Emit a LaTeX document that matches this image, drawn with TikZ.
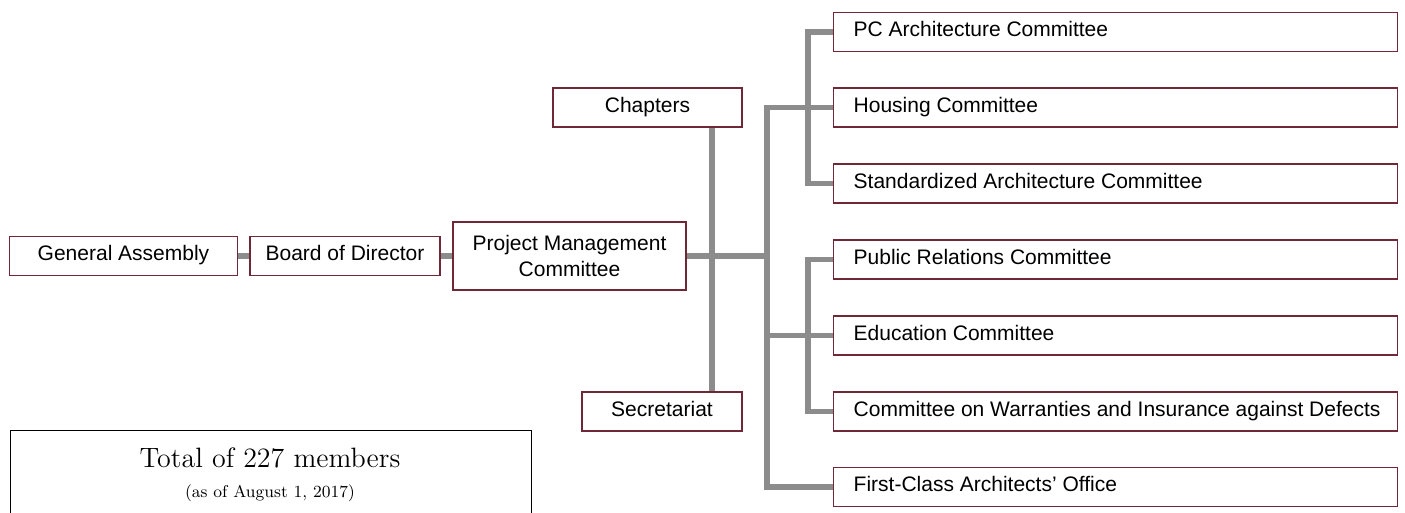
\documentclass[tikz,border=0pt]{standalone}
\usepackage{fontspec}
\setsansfont{Liberation Sans}
\usetikzlibrary{positioning}
\definecolor{boxred}{RGB}{110,40,56}
\definecolor{linkgray}{RGB}{140,140,140}
\newcommand{\cmtext}[1]{\makebox[262pt][l]{#1}}
\tikzset{
  unit/.style={draw=boxred, line width=0.7pt, fill=white, inner sep=0pt,
    font=\sffamily\fontsize{10.5}{12.6}\selectfont, minimum height=19.5pt,
    text height=1.6ex, text depth=0.5ex},
  cmte/.style={unit, anchor=west, minimum width=282pt, inner xsep=10pt},
  link/.style={draw=linkgray, line width=2.6pt},
}
\begin{document}
\begin{tikzpicture}[x=0.5pt,y=-0.5pt]
  \useasboundingbox (0,0) rectangle (1405,513);
  % junctions
  \coordinate (j1) at (712,256);
  \coordinate (j2) at (767,256);
  % left part
  \node[unit, minimum width=114pt] (ga) at (123.5,256) {General Assembly};
  \node[unit, minimum width=95pt] (bod) at (345,256) {Board of Director};
  \node[unit, minimum width=116.5pt, minimum height=34pt, align=center,
    text height=, text depth=] (pmc) at (569.5,256) {Project Management\\Committee};
  \node[unit, minimum width=94.5pt] (chap) at (647.5,107.5) {Chapters};
  \node[unit, minimum width=80pt] (sec) at (662,411.5) {Secretariat};
  % committees
  \node[cmte] (pc) at (833,32) {\cmtext{PC Architecture Committee}};
  \node[cmte] (hous) at (833,107.5) {\cmtext{Housing Committee}};
  \node[cmte] (std) at (833,183.5) {\cmtext{Standardized Architecture Committee}};
  \node[cmte] (pr) at (833,259.5) {\cmtext{Public Relations Committee}};
  \node[cmte] (edu) at (833,335.5) {\cmtext{Education Committee}};
  \node[cmte] (warr) at (833,411.5) {\cmtext{Committee on Warranties and Insurance against Defects}};
  \node[cmte] (fca) at (833,487) {\cmtext{First-Class Architects' Office}};
  % connectors
  \draw[link] (ga) -- (bod);
  \draw[link] (bod) -- (pmc);
  \draw[link] (pmc) -- (j2);
  \draw[link] (j1 |- chap.south) -- (j1 |- sec.north);
  \draw[link] (hous.west) -| (j2) |- (fca.west);
  \draw[link] (j2 |- edu) -- (edu.west);
  \draw[link] (pc.west) -- ++(-25,0) |- (std.west);
  \draw[link] (pr.west) -- ++(-25,0) |- (warr.west);
  % members box
  \draw[line width=0.5pt] (10,513) |- (531,431) -- (531,513);
  \node[font=\fontsize{14}{16}\selectfont, inner sep=0pt] (total) at (270,458) {Total of 227 members};
  \node[font=\fontsize{8.5}{10}\selectfont, inner sep=0pt] (asof) at (270,493) {(as of August 1, 2017)};
\end{tikzpicture}
\end{document}
